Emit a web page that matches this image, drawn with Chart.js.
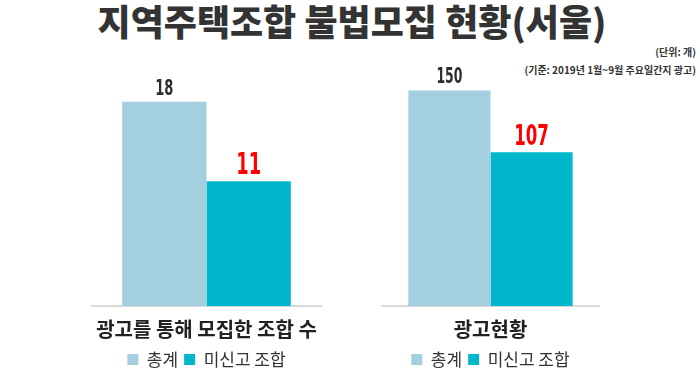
<!DOCTYPE html>
<html>
<head>
<meta charset="utf-8">
<script src="https://cdn.jsdelivr.net/npm/chart.js@4.4.0/dist/chart.umd.min.js"></script>
<style>
  body { margin: 0; background: #fff; font-family: 'Noto Sans CJK KR', sans-serif; }
  #wrap { position: relative; width: 700px; height: 375px; overflow: hidden; }
  #title { position: absolute; left: 0; top: -6px; width: 704px; text-align: center;
    font-size: 36px; font-weight: 900; color: #333; }
  .note { position: absolute; right: 4px; font-size: 10px; font-weight: 700; color: #333; }
  .box { position: absolute; top: 40px; height: 338px; }
</style>
</head>
<body>
<div id="wrap">
  <div id="title">지역주택조합 불법모집 현황(서울)</div>
  <div class="note" style="top:44px">(단위: 개)</div>
  <div class="note" style="top:62px">(기준: 2019년 1월~9월 주요일간지 광고)</div>
  <div class="box" style="left:91px;width:231px"><canvas id="chart0"></canvas></div>
  <div class="box" style="left:381px;width:219px"><canvas id="chart1"></canvas></div>
</div>
<script>
const seriesNames = ['총계', '미신고 조합'];
const groupTitles = ['광고를 통해 모집한 조합 수', '광고현황'];
const totals = [18, 150];
const unreported = [11, 107];
const axisMax = [20, 160];

// styles for the value labels over the bars
const barColors = ['#a4cfdf', '#00b7cc'];
const valueColors = ['#2e2e2e', '#ff0000'];
const valueSizes = [[22, 30], [21, 28]];
const numFont = "'DejaVu Sans Condensed', 'DejaVu Sans', sans-serif";
const topPad = [39, 36];
const catPct = [0.73, 0.75];

const valueLabels = {
  id: 'valueLabels',
  afterDatasetsDraw(chart) {
    const ctx = chart.ctx;
    const idx = chart.options.plugins.valueLabels.idx;
    chart.data.datasets.forEach((ds, d) => {
      chart.getDatasetMeta(d).data.forEach((bar, i) => {
        ctx.save();
        ctx.translate(bar.x, bar.y - 7);
        ctx.scale(0.66, 1);  // condensed look of the numbers
        ctx.font = 'bold ' + valueSizes[idx][d] + 'px ' + numFont;
        ctx.fillStyle = valueColors[d];
        ctx.textAlign = 'center';
        ctx.textBaseline = 'alphabetic';
        ctx.fillText(ds.data[i], 0, 0);
        ctx.restore();
      });
    });
  }
};

[0, 1].forEach(i => {
  const el = document.getElementById('chart' + i);
  new Chart(el, {
    type: 'bar',
    data: {
      labels: [groupTitles[i]],
      datasets: [
        { label: seriesNames[0], data: [totals[i]], backgroundColor: barColors[0] },
        { label: seriesNames[1], data: [unreported[i]], backgroundColor: barColors[1] }
      ]
    },
    options: {
      responsive: true,
      maintainAspectRatio: false,
      animation: false,
      layout: { padding: { top: topPad[i] } },
      categoryPercentage: catPct[i],
      barPercentage: 1.0,
      scales: {
        x: {
          grid: { display: false },
          border: { display: true, color: '#d9d9d9', width: 2 },
          ticks: { color: '#222', padding: 1,
            font: { family: 'Noto Sans CJK KR', size: 20, weight: 'bold', lineHeight: 1.45 } }
        },
        y: { display: false, min: 0, max: axisMax[i] }
      },
      plugins: {
        valueLabels: { idx: i },
        tooltip: { enabled: false },
        legend: {
          position: 'bottom',
          labels: {
            boxWidth: 11, boxHeight: 11, padding: 6, color: '#333',
            font: { family: 'Noto Sans CJK KR', size: 17 }
          }
        }
      }
    },
    plugins: [valueLabels]
  });
});
</script>
</body>
</html>
